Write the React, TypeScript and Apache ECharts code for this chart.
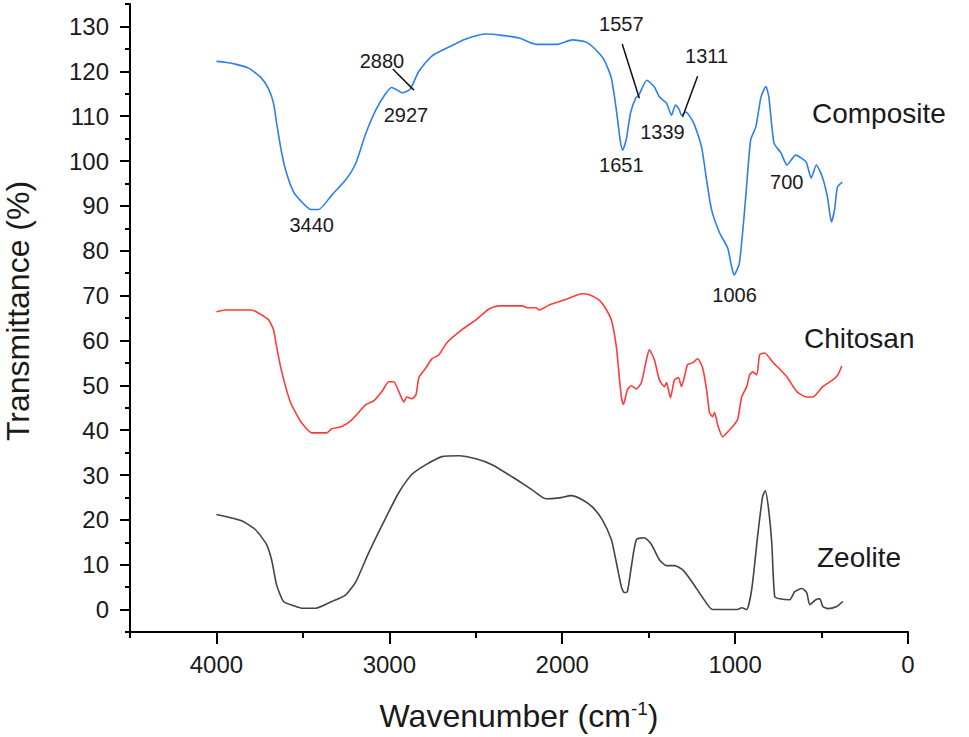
import React, { useEffect, useRef } from "react";
import * as echarts from "echarts";

// ---- Data ----
const compositeWavenumber = [4000, 3950, 3890, 3814, 3745, 3700, 3670, 3652, 3629, 3600, 3554, 3507, 3455, 3409, 3333, 3252, 3194, 3136, 3078, 3020, 2986, 2945, 2927, 2880, 2829, 2754, 2655, 2557, 2441, 2348, 2249, 2151, 2029, 1942, 1861, 1803, 1757, 1716, 1687, 1665, 1651, 1630, 1605, 1575, 1557, 1510, 1467, 1438, 1397, 1368, 1345, 1322, 1311, 1285, 1240, 1194, 1165, 1136, 1090, 1043, 1020, 1006, 975, 940, 910, 880, 850, 822, 805, 775, 735, 700, 650, 590, 560, 530, 495, 466, 443, 425, 408, 380];
const compositeTransmittance = [122.2, 122, 121.6, 120.7, 118.7, 116.2, 112.9, 108.5, 103.1, 98, 93.1, 90.9, 89.2, 89.2, 92.4, 95.8, 99.5, 106.2, 111.4, 115.1, 116.4, 115.6, 115.2, 116, 120, 123.4, 125.4, 127.2, 128.3, 128, 127.4, 126, 126, 127, 126.5, 124.7, 122.5, 118.5, 111.4, 104.7, 102.4, 104.7, 110.7, 114, 114.7, 118, 116.5, 114.3, 112.9, 110.2, 112.5, 111.4, 110.2, 110.9, 108.5, 103.1, 95.8, 89.1, 84, 80.6, 76.4, 74.6, 77.3, 91.3, 104.7, 107.6, 114.3, 116.6, 114.3, 104, 101.8, 99.1, 101.3, 99.8, 96.2, 99.1, 96.4, 92, 86.4, 89.1, 94.2, 95.3];

const chitosanWavenumber = [4000, 3948, 3797, 3757, 3699, 3670, 3652, 3629, 3600, 3571, 3542, 3507, 3449, 3362, 3333, 3275, 3217, 3136, 3090, 3043, 3003, 2974, 2945, 2916, 2899, 2870, 2846, 2829, 2788, 2754, 2713, 2667, 2580, 2499, 2423, 2365, 2232, 2203, 2151, 2133, 2075, 1977, 1884, 1843, 1786, 1755, 1716, 1687, 1670, 1658, 1646, 1623, 1600, 1571, 1542, 1513, 1496, 1467, 1438, 1409, 1397, 1374, 1351, 1328, 1310, 1293, 1275, 1246, 1217, 1188, 1165, 1148, 1130, 1119, 1101, 1072, 1043, 1014, 986, 962, 933, 916, 899, 875, 858, 829, 783, 701, 643, 586, 551, 493, 435, 406, 383];
const chitosanTransmittance = [66.4, 66.8, 66.8, 66.1, 64.6, 62.4, 58.6, 54.1, 49.7, 46.1, 43.9, 41.6, 39.4, 39.4, 40.3, 40.8, 42.3, 45.7, 46.5, 48.6, 50.8, 50.8, 48.6, 46.3, 47.4, 47, 47.9, 51.7, 53.9, 55.9, 56.8, 59.5, 62.4, 64.6, 67, 67.7, 67.7, 67.3, 67.3, 66.8, 67.9, 69.2, 70.4, 70.2, 69, 67.5, 64.6, 58.6, 51.9, 47.4, 45.7, 49, 49.9, 49.2, 50.6, 55.7, 57.9, 55.7, 51.2, 49.7, 50.6, 47.2, 51.2, 51.7, 49.7, 51.9, 54.6, 55, 55.9, 53.9, 49, 43.9, 43, 43.9, 41.2, 38.5, 39.6, 40.8, 42.3, 47.4, 49.7, 52.3, 53, 52.3, 56.8, 57.2, 55.2, 51.9, 48.6, 47.4, 47.4, 49.7, 51.2, 52.3, 54.3];

const zeoliteWavenumber = [4000, 3855, 3774, 3710, 3681, 3652, 3612, 3550, 3507, 3426, 3333, 3252, 3194, 3119, 3020, 2945, 2870, 2788, 2696, 2597, 2499, 2406, 2290, 2174, 2093, 2017, 1948, 1884, 1826, 1768, 1716, 1687, 1658, 1641, 1623, 1600, 1571, 1525, 1484, 1438, 1397, 1351, 1304, 1246, 1188, 1130, 991, 962, 933, 904, 870, 841, 825, 806, 788, 771, 742, 684, 655, 614, 586, 568, 533, 510, 493, 464, 412, 377];
const zeoliteTransmittance = [21.2, 19.8, 17.8, 14.5, 11.1, 5.5, 1.8, 0.8, 0.3, 0.3, 1.8, 3.3, 6.2, 12.7, 20.5, 26.1, 30.1, 32.3, 34.1, 34.3, 33.6, 32.3, 29.6, 26.7, 24.7, 24.9, 25.4, 24.5, 22.9, 20, 15.6, 10.5, 5.1, 3.8, 4, 9.6, 15.6, 16, 14.5, 11.1, 9.8, 9.8, 8.9, 6, 2.7, 0, 0, 0.4, 0, 4.5, 16.3, 25.2, 26.5, 22.3, 14.9, 2.9, 2.4, 2.2, 4, 4.7, 3.8, 1.1, 2.2, 2.4, 0.7, 0.2, 0.7, 1.8];

const xMajorTicks = [0, 1000, 2000, 3000, 4000];
const xMinorTicks = [500, 1500, 2500, 3500, 4500];
const yMajorTicks = [0, 10, 20, 30, 40, 50, 60, 70, 80, 90, 100, 110, 120, 130];
const yMinorTicks = [-5, 5, 15, 25, 35, 45, 55, 65, 75, 85, 95, 105, 115, 125, 135];

const annotationTexts = ["3440", "2880", "2927", "1557", "1311", "1339", "1651", "1006", "700"];
const annotationWavenumber = [3449, 3043, 2904, 1658, 1165, 1420, 1658, 1003, 701];
const annotationValue = [85.7, 122.2, 110.2, 130.5, 123.4, 106.5, 99.1, 70.2, 95.3];

const leaderFromWavenumber = [2980, 1653, 1217];
const leaderFromValue = [120.5, 126.1, 118.9];
const leaderToWavenumber = [2858, 1554, 1304];
const leaderToValue = [115.8, 114, 109.8];

const seriesNames = ["Composite", "Chitosan", "Zeolite"];
const seriesColors = ["#2c7ff0", "#ff3c3c", "#444444"];

const zip = (xs: number[], ys: number[]) => xs.map((x, i) => [x, ys[i]]);

export default function App() {
  const ref = useRef<HTMLDivElement>(null);

  useEffect(() => {
    if (!ref.current) return;
    const chart = echarts.init(ref.current, null, { renderer: "svg" });
    const font = "Liberation Sans, Arial, sans-serif";
    const textColor = "#1a1a1a";
    const gridRect = { left: 130, right: 61, top: 4, bottom: 105, containLabel: false };

    const xBase = {
      type: "value" as const,
      min: 0,
      max: 4500,
      inverse: true,
      position: "bottom" as const,
      splitLine: { show: false },
    };
    const yBase = {
      type: "value" as const,
      min: -5,
      max: 135,
      position: "left" as const,
      splitLine: { show: false },
    };

    const option: any = {
      animation: false,
      backgroundColor: "#ffffff",
      grid: [gridRect, { ...gridRect }],
      xAxis: [
        {
          ...xBase,
          gridIndex: 0,
          axisLine: { show: true, onZero: false, lineStyle: { color: "#000", width: 2 } },
          axisTick: { show: true, length: 12, lineStyle: { color: "#000", width: 2 }, customValues: xMajorTicks },
          axisLabel: {
            show: true,
            customValues: xMajorTicks,
            formatter: (v: number) => String(v),
            margin: 20,
            fontSize: 24,
            color: textColor,
            fontFamily: font,
          },
        },
        {
          ...xBase,
          gridIndex: 1,
          axisLine: { show: false, onZero: false },
          axisTick: { show: true, length: 6, lineStyle: { color: "#000", width: 2 }, customValues: xMinorTicks },
          axisLabel: { show: false, customValues: xMinorTicks },
        },
      ],
      yAxis: [
        {
          ...yBase,
          gridIndex: 0,
          axisLine: { show: true, onZero: false, lineStyle: { color: "#000", width: 2 } },
          axisTick: { show: true, length: 10, lineStyle: { color: "#000", width: 2 }, customValues: yMajorTicks },
          axisLabel: {
            show: true,
            customValues: yMajorTicks,
            formatter: (v: number) => String(v),
            margin: 21,
            fontSize: 24,
            color: textColor,
            fontFamily: font,
          },
        },
        {
          ...yBase,
          gridIndex: 1,
          axisLine: { show: false, onZero: false },
          axisTick: { show: true, length: 5, lineStyle: { color: "#000", width: 2 }, customValues: yMinorTicks },
          axisLabel: { show: false, customValues: yMinorTicks },
        },
      ],
      series: [
        {
          name: seriesNames[0],
          type: "line",
          xAxisIndex: 0,
          yAxisIndex: 0,
          data: zip(compositeWavenumber, compositeTransmittance),
          showSymbol: false,
          smooth: 0.2,
          lineStyle: { color: seriesColors[0], width: 1.6 },
          itemStyle: { color: seriesColors[0] },
          markPoint: {
            symbol: "circle",
            symbolSize: 0,
            silent: true,
            label: { show: true, position: "inside", formatter: "{b}", fontSize: 20, color: textColor, fontFamily: font },
            data: annotationTexts.map((t, i) => ({ name: t, coord: [annotationWavenumber[i], annotationValue[i]] })),
          },
          markLine: {
            symbol: ["none", "none"],
            silent: true,
            label: { show: false },
            lineStyle: { color: "#111", width: 1.5, type: "solid" },
            data: leaderFromWavenumber.map((w, i) => [
              { coord: [w, leaderFromValue[i]] },
              { coord: [leaderToWavenumber[i], leaderToValue[i]] },
            ]),
          },
        },
        {
          name: seriesNames[1],
          type: "line",
          xAxisIndex: 0,
          yAxisIndex: 0,
          data: zip(chitosanWavenumber, chitosanTransmittance),
          showSymbol: false,
          smooth: 0.2,
          lineStyle: { color: seriesColors[1], width: 1.6 },
          itemStyle: { color: seriesColors[1] },
        },
        {
          name: seriesNames[2],
          type: "line",
          xAxisIndex: 0,
          yAxisIndex: 0,
          data: zip(zeoliteWavenumber, zeoliteTransmittance),
          showSymbol: false,
          smooth: 0.2,
          lineStyle: { color: seriesColors[2], width: 1.6 },
          itemStyle: { color: seriesColors[2] },
        },
      ],
      graphic: [
        {
          type: "text",
          x: 519,
          y: 716,
          style: {
            text: "Wavenumber (cm{sup|-1})",
            font: `32px ${font}`,
            fill: textColor,
            align: "center",
            verticalAlign: "middle",
            rich: { sup: { fontSize: 19, verticalAlign: "top", padding: [0, 0, 15, 0], fill: textColor, fontFamily: font } },
          },
        },
        {
          type: "text",
          x: 18,
          y: 311,
          rotation: Math.PI / 2,
          style: { text: "Transmittance (%)", font: `32px ${font}`, fill: textColor, align: "center", verticalAlign: "middle" },
        },
        { type: "text", x: 812, y: 113, style: { text: seriesNames[0], font: `28px ${font}`, fill: textColor, align: "left", verticalAlign: "middle" } },
        { type: "text", x: 804, y: 338, style: { text: seriesNames[1], font: `28px ${font}`, fill: textColor, align: "left", verticalAlign: "middle" } },
        { type: "text", x: 817, y: 557, style: { text: seriesNames[2], font: `28px ${font}`, fill: textColor, align: "left", verticalAlign: "middle" } },
      ],
    };

    chart.setOption(option);
    return () => chart.dispose();
  }, []);

  return (
    <div
      ref={ref}
      style={{ position: "fixed", left: 0, top: 0, width: 969, height: 737, background: "#fff" }}
    />
  );
}
